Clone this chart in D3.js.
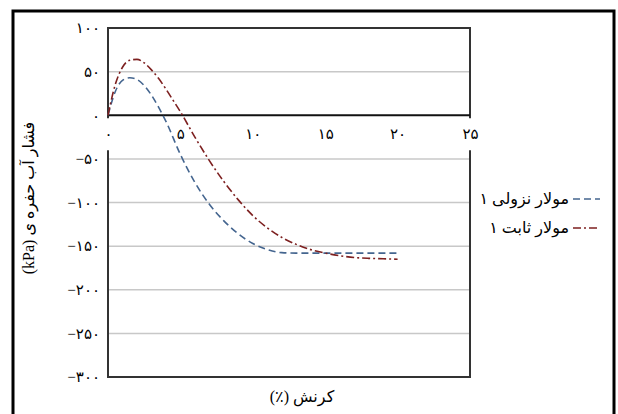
<!DOCTYPE html>
<html>
<head>
    <meta charset="utf-8" />
    <title>کرنش - فشار آب حفره ای</title>
    <style>
        body { margin: 0; background: #fff; }
        svg text { font-family: "Liberation Serif", "DejaVu Serif", "DejaVu Sans", serif; fill: #000; }
    </style>
</head>
<body>
    <script src="https://cdn.jsdelivr.net/npm/d3@7"></script>

    <script>

        // data
        let seriesNames = ['۱ مولار نزولی', '۱ مولار ثابت']

        let strainDesc = [0, 0.5, 1, 1.5, 2, 2.5, 3, 3.5, 4, 5, 6, 7, 8, 9, 10, 11, 12, 13, 14, 16, 18, 20]
        let pressureDesc = [0, 27, 40, 43, 41, 34, 23, 9, -7, -45, -77, -102, -121, -136, -147, -154, -157.5, -158, -158, -158, -158, -158]

        let strainConst = [0, 0.5, 1, 1.5, 2, 2.5, 3, 3.5, 4, 4.5, 5, 6, 7, 8, 9, 10, 11, 12, 13, 14, 15, 16, 17, 18, 19, 20]
        let pressureConst = [0, 35, 55, 63, 64, 60, 52, 42, 30, 17, 4, -25, -52, -76, -97, -115, -129, -140, -148, -154, -158, -161, -163, -164, -164.5, -165]

        let xTicks = [0, 5, 10, 15, 20, 25]
        let xTickLabels = ['۰', '۵', '۱۰', '۱۵', '۲۰', '۲۵']
        let yTicks = [-300, -250, -200, -150, -100, -50, 0, 50, 100]
        let yTickLabels = ['−۳۰۰', '−۲۵۰', '−۲۰۰', '−۱۵۰', '−۱۰۰', '−۵۰', '۰', '۵۰', '۱۰۰']

        let xTitle = 'کرنش (٪)'
        let yTitle = 'فشار آب حفره ی (kPa)'

        let width = 618,
            height = 414,
            plot = { left: 108, right: 470, top: 28, bottom: 377 }

        let styles = [
            { color: '#44658f', dash: '7,4' },
            { color: '#7d2020', dash: '8,3,2,3' }
        ]

        let series = [
            strainDesc.map(function (d, i) { return { x: d, y: pressureDesc[i] } }),
            strainConst.map(function (d, i) { return { x: d, y: pressureConst[i] } })
        ]

        let x = d3.scaleLinear().domain([0, 25]).range([plot.left, plot.right])
        let y = d3.scaleLinear().domain([-300, 100]).range([plot.bottom, plot.top])

        let svg = d3.select('body')
                    .append('svg')
                    .attr('width', width)
                    .attr('height', height)

        // outer frame
        svg.append('rect')
            .attr('x', 13)
            .attr('y', 11)
            .attr('width', 601)
            .attr('height', 410)
            .attr('fill', 'none')
            .attr('stroke', '#000')
            .attr('stroke-width', 3)

        // grid
        svg.append('g')
            .selectAll('line')
            .data(yTicks.filter(function (t) { return t !== 0 && t !== 100 && t !== -300 }))
            .enter()
                .append('line')
                .attr('x1', plot.left)
                .attr('x2', plot.right)
                .attr('y1', function (d) { return y(d) })
                .attr('y2', function (d) { return y(d) })
                .attr('stroke', '#c8c8c8')
                .attr('stroke-width', 1.5)

        // plot border
        svg.append('rect')
            .attr('x', plot.left)
            .attr('y', plot.top)
            .attr('width', plot.right - plot.left)
            .attr('height', plot.bottom - plot.top)
            .attr('fill', 'none')
            .attr('stroke', '#333')
            .attr('stroke-width', 2)

        svg.append('line')
            .attr('x1', plot.left)
            .attr('x2', plot.right)
            .attr('y1', y(0))
            .attr('y2', y(0))
            .attr('stroke', '#111')
            .attr('stroke-width', 2)

        // axes
        let yAxis = d3.axisLeft(y)
                        .tickValues(yTicks)
                        .tickSize(0)
                        .tickPadding(8)
                        .tickFormat(function (d, i) { return yTickLabels[i] })

        let yAxisG = svg.append('g')
                        .attr('transform', `translate(${plot.left}, 0)`)
                        .call(yAxis)
        yAxisG.select('.domain').remove()
        yAxisG.selectAll('text')
            .attr('font-size', 15)
            .attr('font-family', null)

        let xAxis = d3.axisBottom(x)
                        .tickValues(xTicks)
                        .tickSize(0)
                        .tickPadding(13)
                        .tickFormat(function (d, i) { return xTickLabels[i] })

        let xAxisG = svg.append('g')
                        .attr('transform', `translate(0, ${y(0)})`)
                        .call(xAxis)
        xAxisG.select('.domain').remove()
        xAxisG.selectAll('text')
            .attr('font-size', 15)
            .attr('font-family', null)

        // white boxes behind x labels, like the original
        xAxisG.selectAll('.tick').each(function () {
            let tick = d3.select(this)
            let box = tick.select('text').node().getBBox()
            tick.insert('rect', 'text')
                .attr('x', box.x - 2)
                .attr('y', 3)
                .attr('width', box.width + 4)
                .attr('height', 32)
                .attr('fill', '#fff')
        })

        // series
        let line = d3.line()
                        .x(function (d) { return x(d.x) })
                        .y(function (d) { return y(d.y) })
                        .curve(d3.curveMonotoneX)

        svg.append('g')
            .selectAll('path')
            .data(series)
            .enter()
                .append('path')
                .attr('d', function (d) { return line(d) })
                .attr('fill', 'none')
                .attr('stroke', function (d, i) { return styles[i].color })
                .attr('stroke-dasharray', function (d, i) { return styles[i].dash })
                .attr('stroke-width', 1.6)

        // titles
        svg.append('text')
            .attr('transform', `translate(34, 198) rotate(-90)`)
            .attr('direction', 'rtl')
            .attr('text-anchor', 'middle')
            .attr('font-size', 16)
            .text(yTitle)

        svg.append('text')
            .attr('x', 302)
            .attr('y', 402)
            .attr('direction', 'rtl')
            .attr('text-anchor', 'middle')
            .attr('font-size', 16)
            .text(xTitle)

        // legend: number kept on the left of the words, as in the original
        let legend = svg.append('g')
                        .selectAll('g')
                        .data(seriesNames)
                        .enter()
                            .append('g')
                            .attr('transform', function (d, i) { return `translate(0, ${199 + i * 29})` })

        legend.each(function (d, i) {
            let g = d3.select(this)
            let num = d.split(' ')[0]
            let words = d.slice(num.length + 1)

            let wordsText = g.append('text')
                                .attr('x', 569)
                                .attr('y', 5)
                                .attr('text-anchor', 'end')
                                .attr('font-size', 16)
                                .text(words)

            let w = wordsText.node().getComputedTextLength()

            g.append('text')
                .attr('x', 569 - w - 4)
                .attr('y', 5)
                .attr('text-anchor', 'end')
                .attr('font-size', 16)
                .text(num)

            g.append('line')
                .attr('x1', 573)
                .attr('x2', 600)
                .attr('y1', 0)
                .attr('y2', 0)
                .attr('stroke', styles[i].color)
                .attr('stroke-dasharray', styles[i].dash)
                .attr('stroke-width', 1.6)
        })

    </script>
</body>
</html>
